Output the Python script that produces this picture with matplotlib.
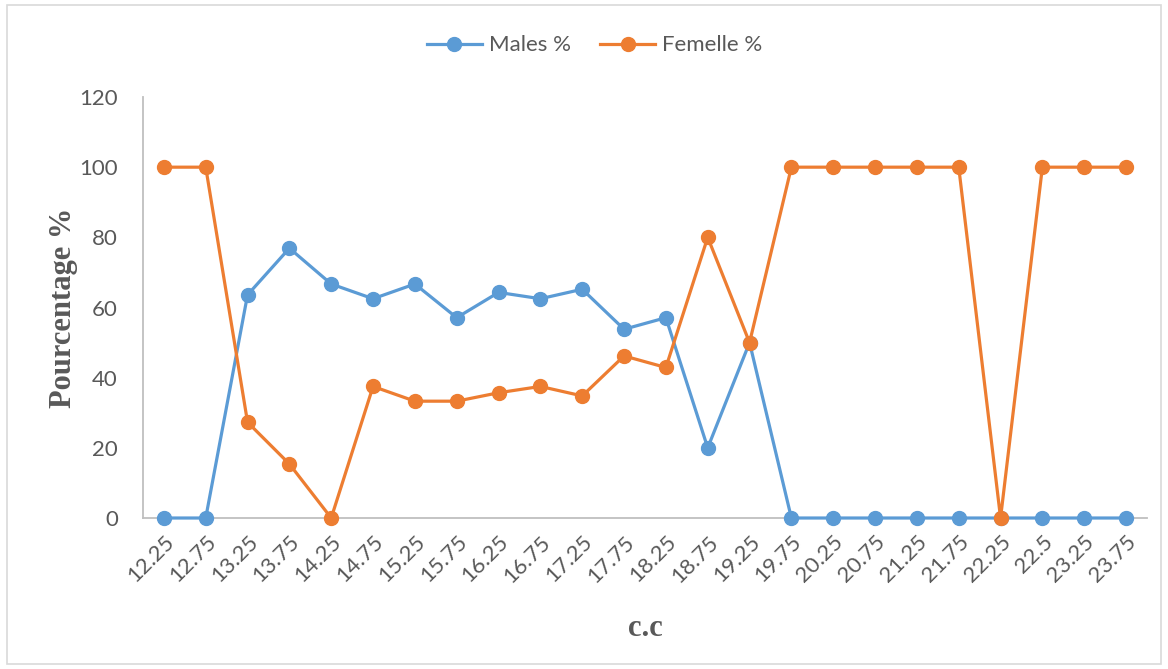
import matplotlib.pyplot as plt
from matplotlib.patches import Rectangle

cc = ["12.25", "12.75", "13.25", "13.75", "14.25", "14.75", "15.25", "15.75",
      "16.25", "16.75", "17.25", "17.75", "18.25", "18.75", "19.25", "19.75",
      "20.25", "20.75", "21.25", "21.75", "22.25", "22.5", "23.25", "23.75"]
males = [0, 0, 63.6, 76.9, 66.7, 62.5, 66.7, 57.1, 64.3, 62.5, 65.2, 53.8,
         57.1, 20, 50, 0, 0, 0, 0, 0, 0, 0, 0, 0]
femelle = [100, 100, 27.3, 15.4, 0, 37.5, 33.3, 33.3, 35.7, 37.5, 34.8, 46.2,
           42.9, 80, 50, 100, 100, 100, 100, 100, 0, 100, 100, 100]

bleu = '#5B9BD5'
orange = '#ED7D31'
gris = '#595959'

fig = plt.figure(figsize=(11.68, 6.69), dpi=100)
ax = fig.add_axes([0.1224, 0.2257, 0.8596, 0.6293])

x = range(len(cc))
ax.plot(x, males, color=bleu, lw=2.3, marker='o', ms=10, label='Males %',
        clip_on=False, zorder=3)
ax.plot(x, femelle, color=orange, lw=2.3, marker='o', ms=10, label='Femelle %',
        clip_on=False, zorder=4)

ax.set_xlim(-0.5, len(cc) - 0.5)
ax.set_ylim(0, 120)
ax.set_yticks(range(0, 121, 20))
ax.set_xticks(list(x))
ax.set_xticklabels(cc, rotation=45, ha='right', rotation_mode='anchor')

for s in ['top', 'right']:
    ax.spines[s].set_visible(False)
for s in ['left', 'bottom']:
    ax.spines[s].set_color('#BFBFBF')
    ax.spines[s].set_linewidth(1.3)
    ax.spines[s].set_zorder(1)
ax.tick_params(length=0, labelsize=16, labelcolor=gris, pad=10)
for t in ax.get_xticklabels() + ax.get_yticklabels():
    t.set_fontfamily('Lato')
ax.tick_params(axis='y', pad=18)

ax.set_ylabel('Pourcentage %', fontfamily='Liberation Serif', fontweight='bold',
              fontsize=22, color=gris, labelpad=1)
ax.set_xlabel('c.c', fontfamily='Liberation Serif', fontweight='bold',
              fontsize=22, color=gris, labelpad=20)

fig.legend(loc='center', bbox_to_anchor=(0.509, 0.932), ncol=2, frameon=False,
           prop={'family': 'Lato', 'size': 16}, labelcolor=gris,
           handlelength=2.5, columnspacing=1.3, handletextpad=0.3)

fig.patches.append(Rectangle((0.006, 0.008), 0.988, 0.984, transform=fig.transFigure,
                             fill=False, edgecolor='#D9D9D9', lw=1.2))

fig.savefig('out.png', dpi=100)
